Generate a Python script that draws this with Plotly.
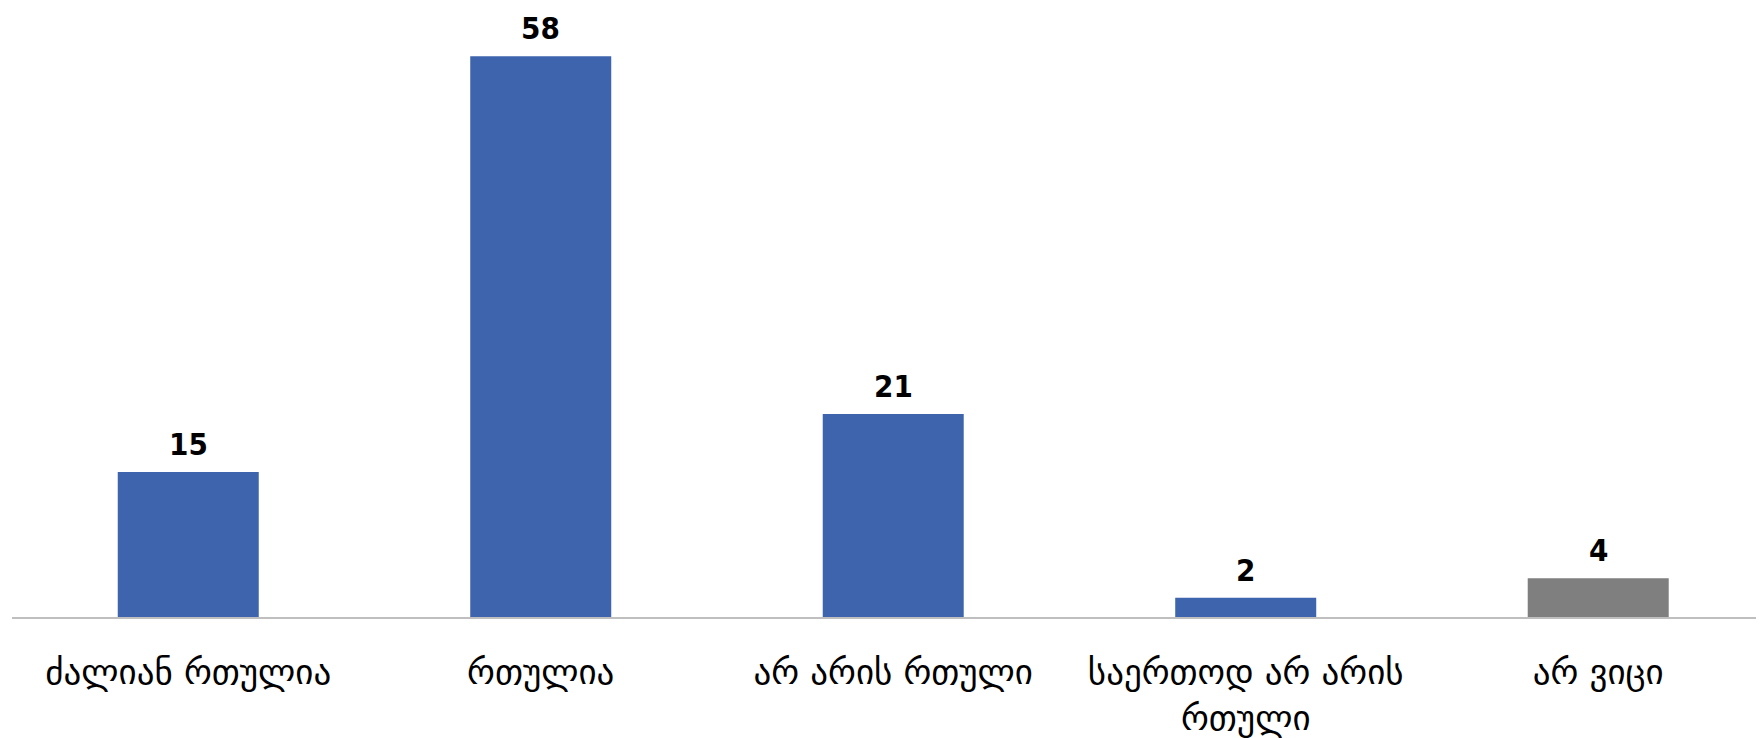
import plotly.graph_objects as go

categories = ["ძალიან რთულია", "რთულია", "არ არის რთული", "საერთოდ არ არის<br>რთული", "არ ვიცი"]
values = [15, 58, 21, 2, 4]
colors = ["#3D64AD", "#3D64AD", "#3D64AD", "#3D64AD", "#7F7F7F"]

fig = go.Figure()
fig.add_trace(go.Bar(x=categories, y=values, marker=dict(color=colors, line=dict(width=0)),
                     width=0.4, hoverinfo="skip"))

for c, v in zip(categories, values):
    fig.add_annotation(x=c, y=v, text=f"<b>{v}</b>", showarrow=False, yanchor="bottom",
                       yshift=9, borderpad=0,
                       font=dict(size=31, color="#000000", family="DejaVu Sans Condensed"))

fig.update_layout(
    width=1764, height=738,
    margin=dict(l=4, r=0, t=0, b=129),
    paper_bgcolor="white", plot_bgcolor="white",
    showlegend=False,
    bargap=0.6,
    xaxis=dict(type="category", range=[-0.5, 4.493], showgrid=False, ticks="",
               showline=True, linecolor="#BFBFBF", linewidth=2, ticklabelstandoff=23,
               tickfont=dict(size=35, color="#000000", family="DejaVu Sans")),
    yaxis=dict(range=[0, 63.0], visible=False, showgrid=False, zeroline=False),
)
fig.write_html("out.html")
